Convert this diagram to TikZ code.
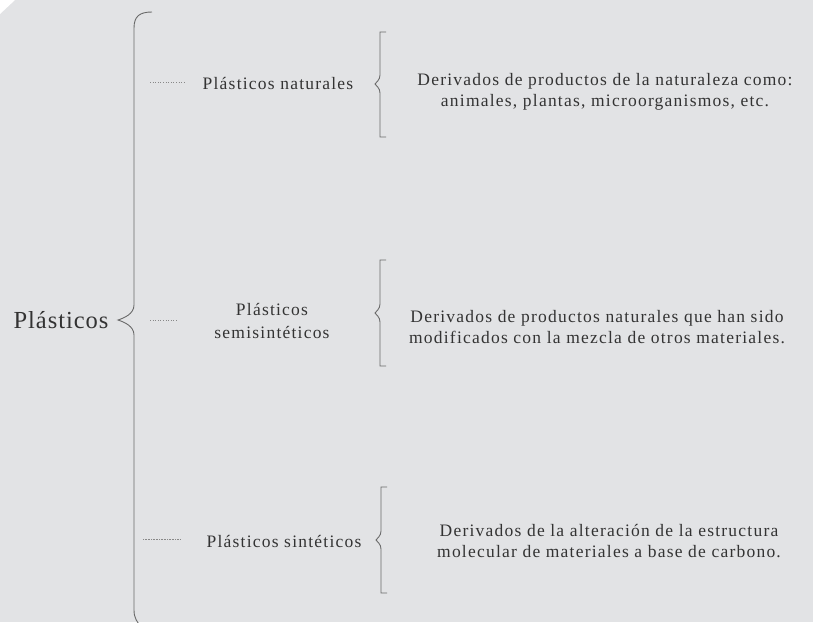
\documentclass[tikz,border=0pt]{standalone}
\usepackage{fontspec}
\setmainfont{Liberation Serif}[LetterSpace=4]
\newfontfamily\spacedfont{Liberation Serif}[LetterSpace=7]
\definecolor{bg}{HTML}{E2E3E5}
\definecolor{txt}{HTML}{333333}
\definecolor{ln}{HTML}{6A6A6A}
\newcommand{\subbrace}[4]{% x, top, mid, bottom
  \draw[bracestyle] ({#1+6},#2) -- (#1,#2) -- (#1,{#3-9})
    .. controls (#1,{#3-4}) and ({#1-4},{#3-1.5}) .. ({#1-5},#3)
    .. controls ({#1-4},{#3+1.5}) and (#1,{#3+4}) .. (#1,{#3+9})
    -- (#1,#4) -- ({#1+6},#4);}
\begin{document}
\begin{tikzpicture}[x=1pt,y=-1pt,
  bracestyle/.style={draw=ln, line width=0.9pt},
  dotline/.style={draw=ln!80, line width=0.6pt, dotted},
  maintxt/.style={text=txt, inner sep=0pt, font=\fontsize{24.5}{28}\selectfont},
  subtxt/.style={text=txt, inner sep=0pt, align=center, font=\spacedfont\fontsize{17.5}{23}\selectfont},
  desc/.style={text=txt, inner sep=0pt, align=center, font=\spacedfont\fontsize{17.5}{20.5}\selectfont}]
\useasboundingbox (0,0) rectangle (813,622);
\fill[bg] (0,0) rectangle (813,622);
\fill[white] (0,0) -- (15,0) -- (0,14) -- cycle;

% main label
\node[maintxt] (main) at (61,320) {Plásticos};

% big brace
\draw[bracestyle] (152,12) .. controls (140,12) and (134,16) .. (134,28)
  -- (134,305) .. controls (134,314) and (124,318) .. (118,320)
  .. controls (124,322) and (134,326) .. (134,335)
  -- (134,610) .. controls (134,618) and (137,622) .. (142,628);

% category labels
\node[subtxt] (nat) at (278,83) {Plásticos naturales};
\node[subtxt] (semi) at (272,321) {Plásticos\\semisintéticos};
\node[subtxt] (sint) at (284,541) {Plásticos sintéticos};

% dotted leaders
\coordinate (l1a) at (150,82); \coordinate (l1b) at (185,82);
\coordinate (l2a) at (150,320); \coordinate (l2b) at (178,320);
\coordinate (l3a) at (143,539); \coordinate (l3b) at (180,539);
\draw[dotline] (l1a) -- (l1b);
\draw[dotline] (l2a) -- (l2b);
\draw[dotline, densely dotted] (l3a) -- (l3b);

% small braces
\subbrace{380}{32}{84}{137}
\subbrace{380}{260}{313}{366}
\subbrace{381}{487}{540}{593}

% descriptions
\node[desc] (d1) at (605,92) {Derivados de productos de la naturaleza como:\\animales, plantas, microorganismos, etc.};
\node[desc] (d2) at (597,327) {Derivados de productos naturales que han sido\\modificados con la mezcla de otros materiales.};
\node[desc] (d3) at (609,541) {Derivados de la alteración de la estructura\\molecular de materiales a base de carbono.};
\end{tikzpicture}
\end{document}
